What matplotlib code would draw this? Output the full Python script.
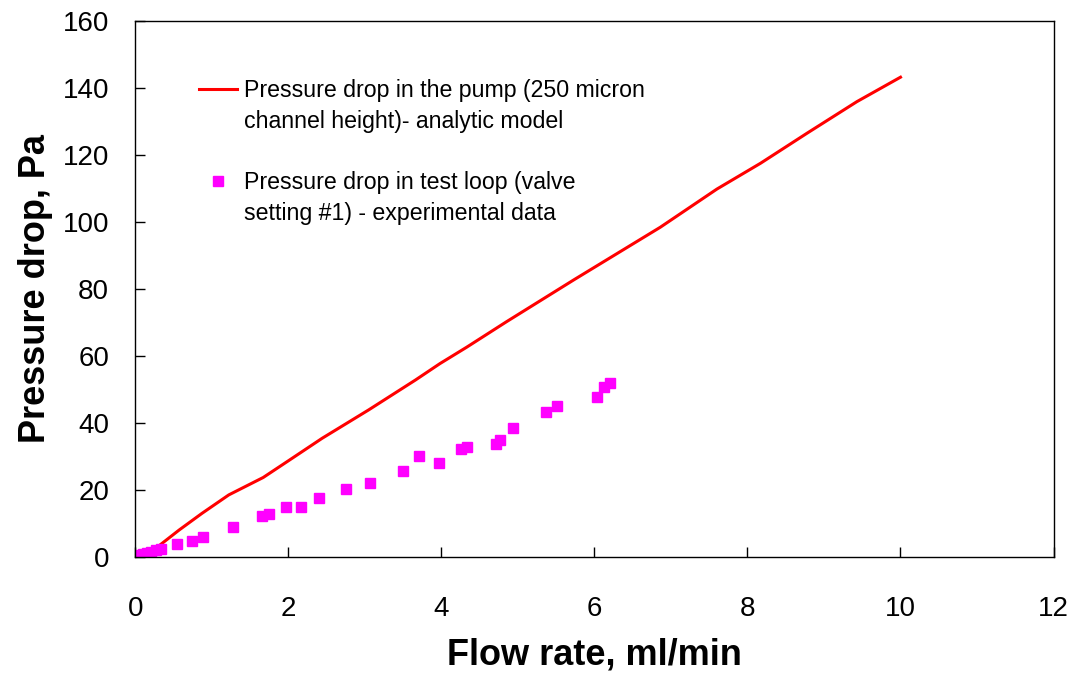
import matplotlib.pyplot as plt
from matplotlib.lines import Line2D

plt.rcParams['font.family'] = ['Liberation Sans', 'DejaVu Sans']

# Analytic model - pressure drop in the pump
model_flow = [0.15, 0.57, 0.87, 1.22, 1.67, 2.0, 2.44, 3.05, 3.66, 3.98, 4.33,
              4.85, 5.73, 6.86, 7.6, 8.17, 8.78, 9.43, 10.0]
model_dp = [0.5, 8.0, 13.0, 18.5, 23.7, 28.7, 35.4, 43.9, 52.8, 57.7, 62.6,
            70.2, 82.7, 98.4, 109.8, 117.5, 126.5, 135.9, 143.2]

# Experimental data - test loop, valve setting #1
exp_flow = [0.03, 0.06, 0.1, 0.15, 0.2, 0.27, 0.34, 0.54, 0.74, 0.88, 1.28,
            1.66, 1.75, 1.97, 2.17, 2.40, 2.75, 3.07, 3.50, 3.71, 3.97, 4.26,
            4.34, 4.71, 4.77, 4.93, 5.36, 5.51, 6.03, 6.12, 6.20]
exp_dp = [0.3, 0.6, 0.9, 1.3, 1.6, 2.0, 2.5, 3.9, 4.8, 5.9, 8.8,
          12.2, 12.7, 15.0, 15.0, 17.5, 20.2, 22.2, 25.7, 30.1, 27.9, 32.3,
          32.7, 33.6, 35.0, 38.6, 43.3, 45.1, 47.7, 50.7, 52.0]

model_label = ['Pressure drop in the pump (250 micron', 'channel height)- analytic model']
exp_label = ['Pressure drop in test loop (valve', 'setting #1) - experimental data']

fig = plt.figure(figsize=(10.75, 6.75), dpi=100)
ax = fig.add_axes([0.126, 0.175, 0.854, 0.794])

line, = ax.plot(model_flow, model_dp, color='#FF0000', linewidth=2.2)
pts, = ax.plot(exp_flow, exp_dp, 's', color='#FF00FF', markersize=6.5, linestyle='none')

ax.set_xlim(0, 12)
ax.set_ylim(0, 160)
ax.set_xticks(range(0, 13, 2))
ax.set_yticks(range(0, 161, 20))
ax.tick_params(axis='both', direction='in', length=7, width=1, labelsize=20)
ax.tick_params(axis='y', pad=19)
ax.tick_params(axis='x', pad=28)
for s in ax.spines.values():
    s.set_linewidth(1)

ax.set_xlabel('Flow rate, ml/min', fontsize=26, fontweight='bold', labelpad=11)
ax.set_ylabel('Pressure drop, Pa', fontsize=26, fontweight='bold', labelpad=7)

# legend: handle sits beside the first line of each two-line label
blank = Line2D([], [], linestyle='none')
handles = [line, blank, blank, pts, blank]
labels = [model_label[0], model_label[1], ' ', exp_label[0], exp_label[1]]
ax.legend(handles, labels, loc='upper left', bbox_to_anchor=(0.047, 0.93),
          frameon=False, fontsize=16.7, handlelength=1.6, handletextpad=0.3,
          labelspacing=0.33)

fig.savefig('out.png', dpi=100)
